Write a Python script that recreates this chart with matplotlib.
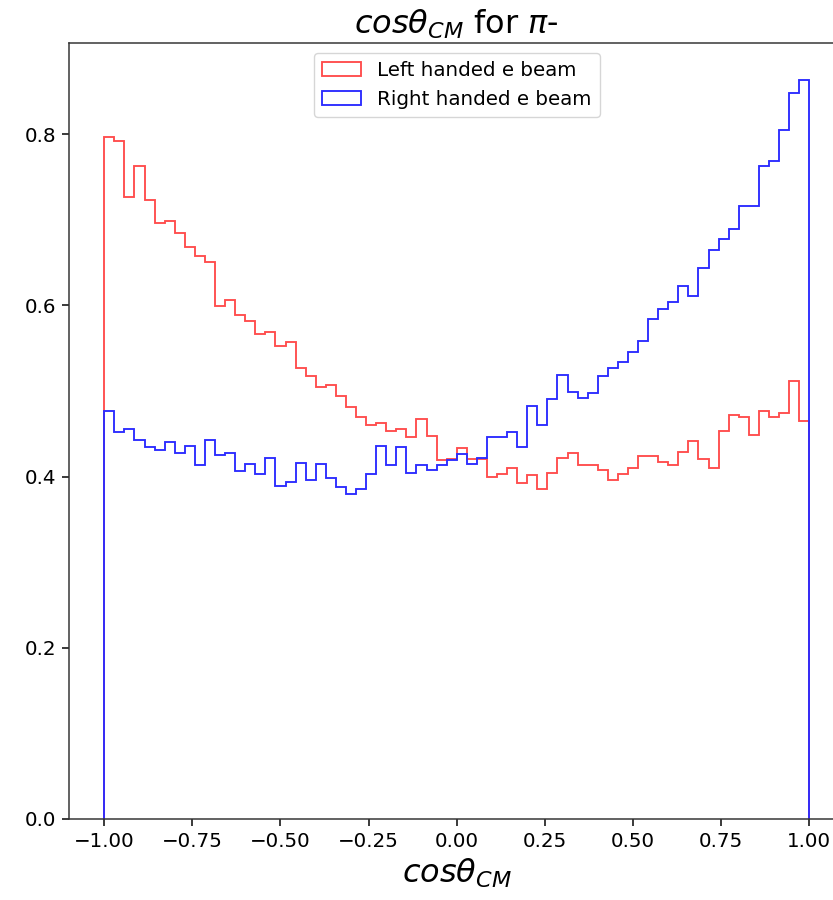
import numpy as np
import matplotlib
matplotlib.use("Agg")
import matplotlib.pyplot as plt

# 70 bins over cos(theta) in [-1, 1], normalised (density) heights
bin_edges = np.linspace(-1.0, 1.0, 71)

left_handed = [
    0.797, 0.792, 0.727, 0.763, 0.723, 0.696, 0.699, 0.684, 0.668, 0.658,
    0.651, 0.599, 0.606, 0.589, 0.582, 0.566, 0.569, 0.553, 0.557, 0.527,
    0.517, 0.505, 0.507, 0.494, 0.481, 0.469, 0.460, 0.462, 0.453, 0.455,
    0.446, 0.467, 0.447, 0.419, 0.420, 0.433, 0.420, 0.420, 0.400, 0.403,
    0.410, 0.393, 0.402, 0.386, 0.404, 0.422, 0.428, 0.414, 0.414, 0.408,
    0.396, 0.403, 0.410, 0.424, 0.424, 0.417, 0.414, 0.429, 0.441, 0.421,
    0.410, 0.453, 0.472, 0.469, 0.449, 0.476, 0.470, 0.474, 0.512, 0.465,
]

right_handed = [
    0.477, 0.452, 0.456, 0.443, 0.434, 0.431, 0.440, 0.427, 0.436, 0.413,
    0.443, 0.425, 0.428, 0.407, 0.415, 0.403, 0.422, 0.389, 0.394, 0.416,
    0.396, 0.415, 0.398, 0.388, 0.380, 0.385, 0.403, 0.436, 0.413, 0.434,
    0.404, 0.413, 0.408, 0.413, 0.419, 0.426, 0.415, 0.422, 0.446, 0.446,
    0.452, 0.434, 0.482, 0.460, 0.490, 0.519, 0.499, 0.492, 0.498, 0.517,
    0.527, 0.534, 0.546, 0.558, 0.584, 0.596, 0.604, 0.622, 0.611, 0.643,
    0.665, 0.677, 0.689, 0.716, 0.716, 0.763, 0.768, 0.805, 0.848, 0.863,
]

centers = 0.5 * (bin_edges[:-1] + bin_edges[1:])

fig = plt.figure(figsize=(8.33, 9.0), dpi=100)
# the reference is cropped on the right, so the axes run past the figure edge
ax = fig.add_axes([0.0828, 0.09, 0.931, 0.862])

ax.hist(centers, bins=bin_edges, weights=left_handed, histtype="step",
        color="red", alpha=0.7, linewidth=1.35, label="Left handed e beam")
ax.hist(centers, bins=bin_edges, weights=right_handed, histtype="step",
        color="#2b2bff", linewidth=1.35, label="Right handed e beam")

ax.set_title(r"$cos\theta_{CM}$ for $\pi$-", fontsize=23, pad=7)
ax.set_xlabel(r"$cos\theta_{CM}$", fontsize=23, labelpad=4)
ax.tick_params(labelsize=14.3, length=4.7, width=1.08, pad=4.7)
for sp in ax.spines.values():
    sp.set_linewidth(1.08)
    sp.set_color("#333333")

ax.legend(loc="upper center", fontsize=14.3)

fig.savefig("out.png", dpi=100)
